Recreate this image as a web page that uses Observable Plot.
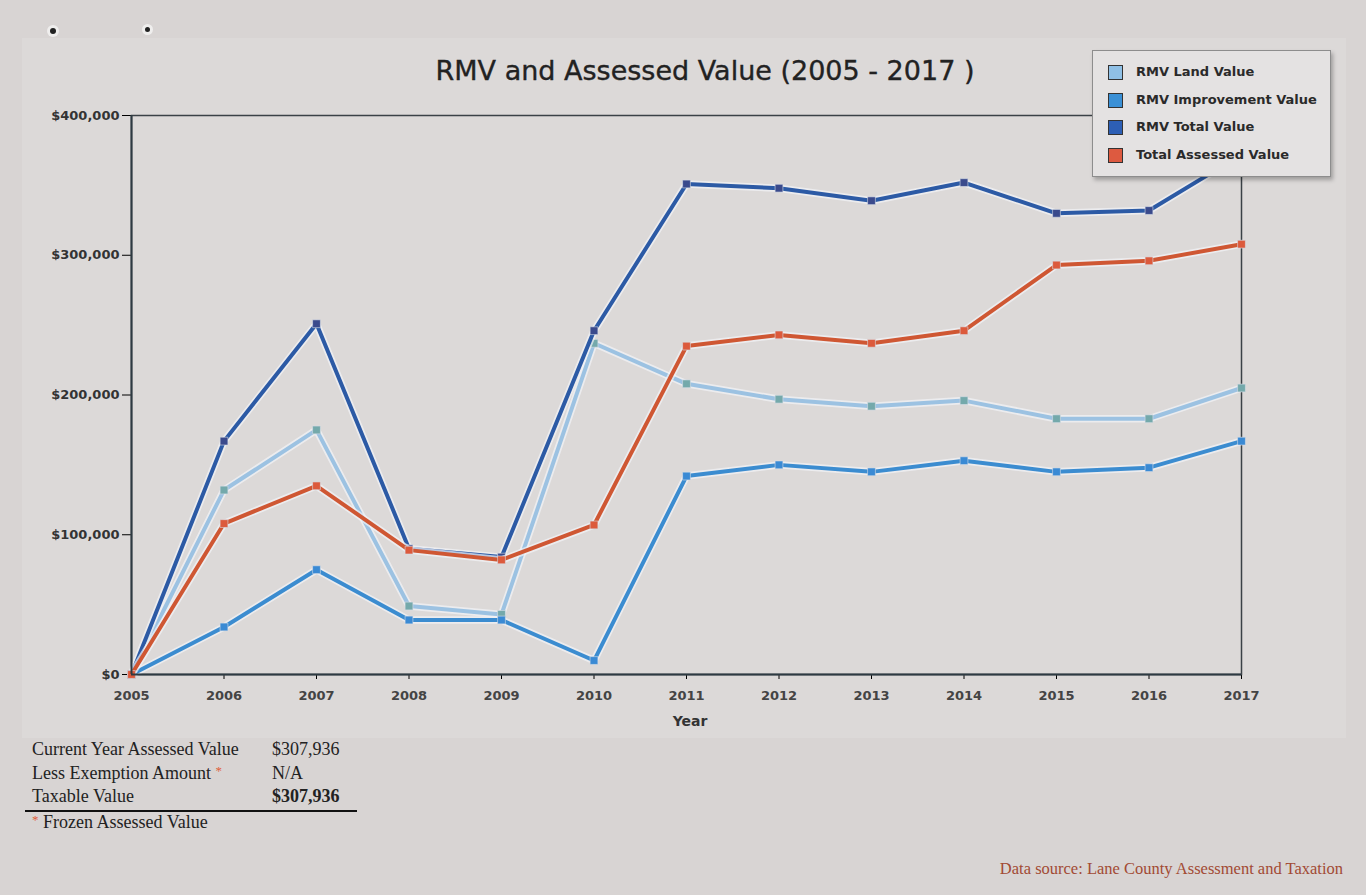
<!DOCTYPE html>
<html>
<head>
<meta charset="utf-8">
<script src="https://cdn.jsdelivr.net/npm/d3@7"></script>
<script src="https://cdn.jsdelivr.net/npm/@observablehq/plot@0.6"></script>
<style>
  html, body { margin: 0; padding: 0; }
  body { width: 1366px; height: 895px; background: #d8d4d3; position: relative; overflow: hidden; font-family: "DejaVu Sans", sans-serif; }
  #panel { position: absolute; left: 22px; top: 38px; width: 1324px; height: 700px; background: #dcd9d8; }
  #chart { position: absolute; left: 0; top: 0; }
  #title { position: absolute; left: 0; width: 1410px; top: 55px; text-align: center; font-size: 27px; color: #222; -webkit-text-stroke: 0.35px #222; }
  #xlabel { position: absolute; left: 640px; width: 100px; top: 713px; text-align: center; font-size: 14px; font-weight: bold; color: #333; }
  #legend { position: absolute; left: 1092px; top: 50px; width: 237px; height: 125px; background: #e4e2e2; border: 1px solid #8d8d8d; box-shadow: 2px 3px 4px rgba(0,0,0,0.28); }
  .item { position: absolute; left: 15px; height: 16px; font-size: 13px; font-weight: bold; color: #2a2a2a; white-space: nowrap; }
  .sw { display: inline-block; width: 13px; height: 13px; border: 1.5px solid #333; vertical-align: middle; margin-right: 13px; }
  #table { position: absolute; left: 32px; top: 739px; font-family: "Liberation Serif", "DejaVu Serif", serif; font-size: 18px; color: #222; }
  .row { position: relative; height: 23.5px; white-space: nowrap; }
  .val { position: absolute; left: 240px; }
  .star { color: #e0603c; font-size: 13px; vertical-align: top; }
  #rule { position: absolute; left: 25px; top: 810px; width: 332px; height: 2px; background: #111; }
  #source { position: absolute; right: 23px; top: 859px; font-family: "Liberation Serif", serif; font-size: 16.5px; color: #a24a33; }
  .dot { position: absolute; width: 6px; height: 6px; border-radius: 50%; background: #222; box-shadow: 0 0 0 3px rgba(255,255,255,0.6); }
</style>
</head>
<body>
<div id="panel"></div>
<div class="dot" style="left:50px;top:28px;"></div>
<div class="dot" style="left:145px;top:27px;width:5px;height:5px;"></div>
<div id="chart"></div>
<div id="title">RMV and Assessed Value (2005 - 2017 )</div>
<div id="xlabel">Year</div>
<div id="legend"></div>
<div id="table">
  <div class="row">Current Year Assessed Value<span class="val">$307,936</span></div>
  <div class="row">Less Exemption Amount <span class="star">*</span><span class="val">N/A</span></div>
  <div class="row">Taxable Value<span class="val" style="font-weight:bold;">$307,936</span></div>
  <div class="row" style="margin-top:2px;"><span class="star">*</span> Frozen Assessed Value</div>
</div>
<div id="rule"></div>
<div id="source">Data source: Lane County Assessment and Taxation</div>
<script>
const years = [2005, 2006, 2007, 2008, 2009, 2010, 2011, 2012, 2013, 2014, 2015, 2016, 2017];
const landValues =        [0, 132000, 175000, 49000, 43000, 237000, 208000, 197000, 192000, 196000, 183000, 183000, 205000];
const improvementValues = [0,  34000,  75000, 39000, 39000,  10000, 142000, 150000, 145000, 153000, 145000, 148000, 167000];
const totalValues =       [0, 167000, 251000, 90000, 84000, 246000, 351000, 348000, 339000, 352000, 330000, 332000, 372000];
const assessedValues =    [0, 108000, 135000, 89000, 82000, 107000, 235000, 243000, 237000, 246000, 293000, 296000, 307936];
const seriesNames = ["RMV Land Value", "RMV Improvement Value", "RMV Total Value", "Total Assessed Value"];
const seriesValues = [landValues, improvementValues, totalValues, assessedValues];
const lineColors = ["#9cc2e2", "#3b8cd0", "#2c5aa5", "#cf5733"];
const markerColors = ["#74a9ab", "#3a8ad4", "#3a4a8c", "#dc5a3c"];
const legendColors = ["#8fc0e6", "#3a90d6", "#2d5fb5", "#dd5a40"];
const yTicks = [0, 100000, 200000, 300000, 400000];

const rows = [];
seriesNames.forEach((name, i) => {
  years.forEach((yr, j) => rows.push({series: name, year: yr, value: seriesValues[i][j]}));
});

const W = 1366, H = 740;
const marks = [
  Plot.axisY({ticks: yTicks, tickFormat: d => "$" + d3.format(",")(d), tickSize: 9, tickPadding: 3,
    fontSize: 13, fontWeight: "bold", fill: "#333", label: null}),
  Plot.axisX({ticks: years, tickFormat: d => String(d), tickSize: 5, tickPadding: 11,
    fontSize: 13, fontWeight: "bold", fill: "#444", label: null}),
  Plot.frame({stroke: "#3a4146", strokeWidth: 1.5}),
];
seriesNames.forEach((name, i) => {
  const d = rows.filter(r => r.series === name);
  marks.push(Plot.line(d, {x: "year", y: "value", stroke: "#f2f4f8", strokeOpacity: 0.7, strokeWidth: 7.5}));
  marks.push(Plot.line(d, {x: "year", y: "value", stroke: lineColors[i], strokeWidth: 4}));
  marks.push(Plot.dot(d, {x: "year", y: "value", symbol: "square", r: 4.4, fill: markerColors[i], stroke: "#d7dde6", strokeWidth: 0.6}));
});
marks.push(Plot.ruleX([2005], {stroke: "#2e3a42", strokeWidth: 2}));
marks.push(Plot.ruleY([0], {stroke: "#2e3a42", strokeWidth: 2.2}));

const chart = Plot.plot({
  width: W, height: H,
  marginTop: 115, marginBottom: H - 674, marginLeft: 131, marginRight: W - 1241,
  style: {background: "transparent", fontFamily: "DejaVu Sans, sans-serif", overflow: "visible"},
  x: {domain: [2005, 2017]},
  y: {domain: [0, 400000]},
  marks
});
document.getElementById("chart").appendChild(chart);

const legend = document.getElementById("legend");
seriesNames.forEach((name, i) => {
  const it = document.createElement("div");
  it.className = "item";
  it.style.top = (13 + i * 27.5) + "px";
  const sw = document.createElement("span");
  sw.className = "sw";
  sw.style.background = legendColors[i];
  it.appendChild(sw);
  it.appendChild(document.createTextNode(name));
  legend.appendChild(it);
});
</script>
</body>
</html>
